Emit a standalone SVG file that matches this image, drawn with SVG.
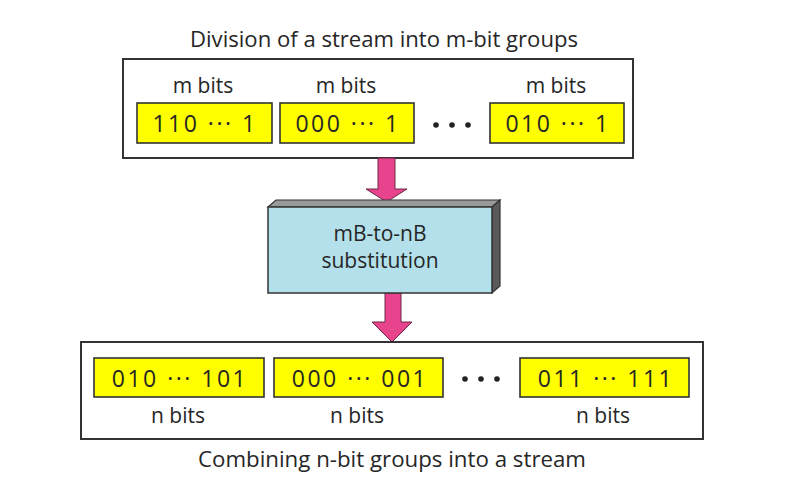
<svg xmlns="http://www.w3.org/2000/svg" width="802" height="487" viewBox="0 0 802 487">
<style>
.t{font-family:"Open Sans","Liberation Sans",sans-serif;fill:#262626}
.cap{font-size:21px}
.lbl{font-size:21px}
.bits{font-size:23px;letter-spacing:2.5px}
.frame{fill:#fff;stroke:#333;stroke-width:2}
.yb{fill:#ffff00;stroke:#333;stroke-width:1.6}
.arrow{fill:#e8448e;stroke:#6a2a44;stroke-width:1}
.dot{fill:#222}
</style>
<rect width="802" height="487" fill="#fff"/>
<text class="t cap" x="384" y="47" text-anchor="middle" textLength="388" lengthAdjust="spacingAndGlyphs">Division of a stream into m-bit groups</text>
<g id="input-groups">
<rect class="frame" x="123" y="59" width="510" height="99"/>
<text class="t lbl" x="203" y="93" text-anchor="middle">m bits</text>
<text class="t lbl" x="346" y="93" text-anchor="middle">m bits</text>
<text class="t lbl" x="556" y="93" text-anchor="middle">m bits</text>
<rect class="yb" x="137" y="103" width="135" height="40"/>
<rect class="yb" x="280" y="103" width="134" height="40"/>
<rect class="yb" x="490" y="103" width="134" height="40"/>
<text class="t bits" x="205" y="132" text-anchor="middle">110 ··· 1</text>
<text class="t bits" x="348" y="132" text-anchor="middle">000 ··· 1</text>
<text class="t bits" x="558" y="132" text-anchor="middle">010 ··· 1</text>
<circle class="dot" cx="436" cy="125" r="2.8"/>
<circle class="dot" cx="452" cy="125" r="2.8"/>
<circle class="dot" cx="468" cy="125" r="2.8"/>
</g>
<g id="connectors">
<path class="arrow" d="M378,158 H395 V189 H407 L386.5,202 L366,189 H378 Z"/>
<path class="arrow" d="M385,293 H401 V322 H412 L392,342 L372,322 H385 Z"/>
</g>
<g id="substitution">
<polygon points="268,207 276,200 500,200 492,207" fill="#9a9a9a" stroke="#333" stroke-width="1.2"/>
<polygon points="492,207 500,200 500,286 492,293" fill="#5a5a5a" stroke="#333" stroke-width="1.2"/>
<rect x="268" y="207" width="224" height="86" fill="#b3e0ea" stroke="#333" stroke-width="1.5"/>
<text class="t lbl" x="380" y="241" text-anchor="middle">mB-to-nB</text>
<text class="t lbl" x="380" y="268" text-anchor="middle">substitution</text>
</g>
<g id="output-groups">
<rect class="frame" x="81" y="342" width="622" height="97"/>
<rect class="yb" x="94" y="358" width="170" height="39"/>
<rect class="yb" x="274" y="358" width="169" height="39"/>
<rect class="yb" x="520" y="358" width="169" height="39"/>
<text class="t bits" x="180" y="387" text-anchor="middle">010 ··· 101</text>
<text class="t bits" x="360" y="387" text-anchor="middle">000 ··· 001</text>
<text class="t bits" x="606" y="387" text-anchor="middle">011 ··· 111</text>
<circle class="dot" cx="465" cy="379" r="2.8"/>
<circle class="dot" cx="481" cy="379" r="2.8"/>
<circle class="dot" cx="497" cy="379" r="2.8"/>
<text class="t lbl" x="178" y="423" text-anchor="middle">n bits</text>
<text class="t lbl" x="357" y="423" text-anchor="middle">n bits</text>
<text class="t lbl" x="603" y="423" text-anchor="middle">n bits</text>
</g>
<text class="t cap" x="392" y="467" text-anchor="middle" textLength="388" lengthAdjust="spacingAndGlyphs">Combining n-bit groups into a stream</text>
</svg>
